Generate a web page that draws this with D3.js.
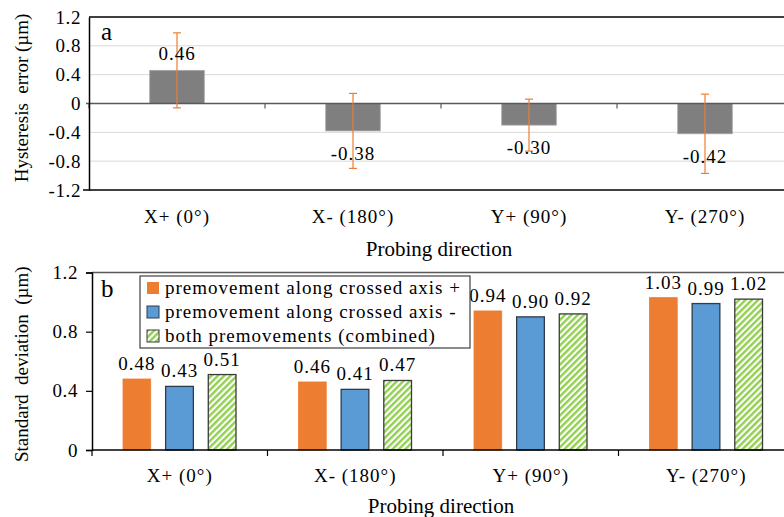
<!DOCTYPE html>
<html>
<head>
<meta charset="utf-8">
<script src="https://cdn.jsdelivr.net/npm/d3@7"></script>
<style>
  body { margin: 0; background: #fff; }
</style>
</head>
<body>
<svg id="chart" width="784" height="517"></svg>
<script>
// Categories shared by both panels
const directions = ["X+ (0°)", "X- (180°)", "Y+ (90°)", "Y- (270°)"];

// Panel a - hysteresis error and its error bar half-width
const hysteresis = [0.46, -0.38, -0.30, -0.42];
const hysteresisErr = [0.52, 0.52, 0.36, 0.55];
const ticksA = [-1.2, -0.8, -0.4, 0, 0.4, 0.8, 1.2];

// Panel b - standard deviation per series
const seriesNames = [
  "premovement along crossed axis +",
  "premovement along crossed axis -",
  "both premovements (combined)"
];
const stdPlus = [0.48, 0.46, 0.94, 1.03];
const stdMinus = [0.43, 0.41, 0.90, 0.99];
const stdBoth = [0.51, 0.47, 0.92, 1.02];
const ticksB = [0, 0.4, 0.8, 1.2];

const FONT = '"Liberation Serif", "Times New Roman", serif';
const svg = d3.select("#chart").style("font-family", FONT);
const fmt = d => d.toFixed(2);
const tickFmt = d => d === 0 ? "0" : d.toFixed(1);

// every label gets the same font; the source figure is slightly stretched
// horizontally, so horizontal text gets a little letter spacing
function label(sel, size, spacing = 1) {
  return sel.attr("font-family", FONT).style("font-family", FONT)
    .style("font-size", size + "px")
    .style("letter-spacing", spacing + "px")
    .attr("fill", "#000");
}

// hatch pattern for the combined series
const defs = svg.append("defs");
const pat = defs.append("pattern")
  .attr("id", "hatch")
  .attr("patternUnits", "userSpaceOnUse")
  .attr("width", 4.5).attr("height", 4.5)
  .attr("patternTransform", "rotate(45)");
pat.append("rect").attr("width", 4.5).attr("height", 4.5).attr("fill", "#fff");
pat.append("rect").attr("width", 2.4).attr("height", 4.5).attr("fill", "#92d050");

// ---------------- panel a ----------------
const a = { left: 89, right: 793, top: 17, bottom: 190 };

const xA = d3.scaleBand()
  .domain(directions)
  .range([a.left, a.right])
  .paddingInner(0.69)
  .paddingOuter(0.345);
const gapA = (xA.step() - xA.bandwidth()) / 2;

const yA = d3.scaleLinear().domain([-1.2, 1.2]).range([a.bottom, a.top]);

const gA = svg.append("g");

// gridlines
gA.append("g").selectAll("line")
  .data(ticksA.filter(d => d !== 0 && Math.abs(d) < 1.2))
  .join("line")
  .attr("x1", a.left).attr("x2", a.right)
  .attr("y1", d => yA(d)).attr("y2", d => yA(d))
  .attr("stroke", "#d9d9d9").attr("stroke-width", 1);

// frame lines top and bottom
gA.append("line")
  .attr("x1", a.left).attr("x2", a.right)
  .attr("y1", yA(1.2)).attr("y2", yA(1.2))
  .attr("stroke", "#000").attr("stroke-width", 1.3);
gA.append("line")
  .attr("x1", a.left - 6).attr("x2", a.right)
  .attr("y1", yA(-1.2)).attr("y2", yA(-1.2))
  .attr("stroke", "#000").attr("stroke-width", 1.3);

// bars
gA.append("g").selectAll("rect")
  .data(hysteresis)
  .join("rect")
  .attr("x", (d, i) => xA(directions[i]))
  .attr("width", xA.bandwidth())
  .attr("y", d => yA(Math.max(0, d)))
  .attr("height", d => Math.abs(yA(d) - yA(0)))
  .attr("fill", "#7f7f7f")
  .attr("stroke", "#a6a6a6").attr("stroke-width", 0.8);

// zero line with category ticks
gA.append("line")
  .attr("x1", a.left - 3).attr("x2", a.right)
  .attr("y1", yA(0)).attr("y2", yA(0))
  .attr("stroke", "#595959").attr("stroke-width", 1.5);
gA.append("g").selectAll("line")
  .data(directions)
  .join("line")
  .attr("x1", d => xA(d) - gapA).attr("x2", d => xA(d) - gapA)
  .attr("y1", yA(0)).attr("y2", yA(0) + 5)
  .attr("stroke", "#595959").attr("stroke-width", 1.2);

// y axis
const axA = gA.append("g")
  .attr("transform", `translate(${a.left},0)`)
  .call(d3.axisLeft(yA).tickValues(ticksA).tickSize(0).tickPadding(8).tickFormat(tickFmt));
axA.attr("font-family", null);
axA.select(".domain").attr("stroke", "#000").attr("stroke-width", 1.5);
label(axA.selectAll("text"), 19, 0.6);

// error bars
const errG = gA.append("g").selectAll("g")
  .data(hysteresis)
  .join("g")
  .attr("stroke", "#ed7d31").attr("stroke-width", 1.2);
errG.append("line")
  .attr("x1", (d, i) => xA(directions[i]) + xA.bandwidth() / 2)
  .attr("x2", (d, i) => xA(directions[i]) + xA.bandwidth() / 2)
  .attr("y1", (d, i) => yA(d + hysteresisErr[i]))
  .attr("y2", (d, i) => yA(d - hysteresisErr[i]));
[1, -1].forEach(s => {
  errG.append("line")
    .attr("x1", (d, i) => xA(directions[i]) + xA.bandwidth() / 2 - 4)
    .attr("x2", (d, i) => xA(directions[i]) + xA.bandwidth() / 2 + 4)
    .attr("y1", (d, i) => yA(d + s * hysteresisErr[i]))
    .attr("y2", (d, i) => yA(d + s * hysteresisErr[i]));
});

// value labels
label(gA.append("g").selectAll("text")
  .data(hysteresis)
  .join("text")
  .attr("x", (d, i) => xA(directions[i]) + xA.bandwidth() / 2)
  .attr("y", d => d >= 0 ? yA(d) - 10 : yA(d) + 29)
  .attr("text-anchor", "middle")
  .text(fmt), 19);

// category labels
label(gA.append("g").selectAll("text")
  .data(directions)
  .join("text")
  .attr("x", d => xA(d) + xA.bandwidth() / 2)
  .attr("y", 223)
  .attr("text-anchor", "middle")
  .text(d => d), 19);

label(gA.append("text")
  .attr("x", 439).attr("y", 256)
  .attr("text-anchor", "middle")
  .text("Probing direction"), 21, 0);

label(gA.append("text")
  .attr("transform", `translate(28,98) rotate(-90)`)
  .attr("text-anchor", "middle")
  .attr("xml:space", "preserve")
  .text("Hysteresis  error (µm)"), 19, 0);

label(gA.append("text")
  .attr("x", 101).attr("y", 40)
  .text("a"), 25, 0);

// ---------------- panel b ----------------
const b = { left: 92, right: 794, top: 272.5, bottom: 450 };

const x0 = d3.scaleBand().domain(directions).range([b.left, b.right]).padding(0);
const x1 = d3.scaleBand().domain(seriesNames).range([31, 144]).paddingInner(0.35);
const yB = d3.scaleLinear().domain([0, 1.2]).range([b.bottom, b.top]);

const gB = svg.append("g");

// top frame line
gB.append("line")
  .attr("x1", b.left).attr("x2", b.right)
  .attr("y1", b.top).attr("y2", b.top)
  .attr("stroke", "#595959").attr("stroke-width", 1.3);

const seriesVals = [stdPlus, stdMinus, stdBoth];
const fills = ["#ed7d31", "#5b9bd5", "url(#hatch)"];
const strokes = ["#ed7d31", "#2e3b4a", "#3a3a3a"];

seriesVals.forEach((vals, s) => {
  gB.append("g").selectAll("rect")
    .data(vals)
    .join("rect")
    .attr("x", (d, i) => x0(directions[i]) + x1(seriesNames[s]))
    .attr("width", x1.bandwidth())
    .attr("y", d => yB(d))
    .attr("height", d => yB(0) - yB(d))
    .attr("fill", fills[s])
    .attr("stroke", strokes[s]).attr("stroke-width", s === 0 ? 0.8 : 1.3);

  label(gB.append("g").selectAll("text")
    .data(vals)
    .join("text")
    .attr("x", (d, i) => x0(directions[i]) + x1(seriesNames[s]) + x1.bandwidth() / 2)
    .attr("y", d => yB(d) - 9)
    .attr("text-anchor", "middle")
    .text(fmt), 19);
});

// axes
const axBy = gB.append("g")
  .attr("transform", `translate(${b.left},0)`)
  .call(d3.axisLeft(yB).tickValues(ticksB).tickSize(6).tickPadding(8).tickFormat(tickFmt));
axBy.attr("font-family", null);
axBy.select(".domain").attr("stroke", "#000").attr("stroke-width", 1.5);
axBy.selectAll(".tick line").attr("stroke", "#000").attr("stroke-width", 1.2);
label(axBy.selectAll("text"), 19, 0.6);

gB.append("line")
  .attr("x1", b.left).attr("x2", b.right)
  .attr("y1", b.bottom).attr("y2", b.bottom)
  .attr("stroke", "#000").attr("stroke-width", 1.5);
gB.append("g").selectAll("line")
  .data(directions)
  .join("line")
  .attr("x1", d => x0(d)).attr("x2", d => x0(d))
  .attr("y1", b.bottom).attr("y2", b.bottom + 6)
  .attr("stroke", "#000").attr("stroke-width", 1.2);

label(gB.append("g").selectAll("text")
  .data(directions)
  .join("text")
  .attr("x", d => x0(d) + x0.bandwidth() / 2)
  .attr("y", 482)
  .attr("text-anchor", "middle")
  .text(d => d), 19);

label(gB.append("text")
  .attr("x", 441).attr("y", 513)
  .attr("text-anchor", "middle")
  .text("Probing direction"), 21, 0);

label(gB.append("text")
  .attr("transform", `translate(28,${(b.top + b.bottom) / 2 + 3}) rotate(-90)`)
  .attr("text-anchor", "middle")
  .attr("xml:space", "preserve")
  .text("Standard  deviation  (µm)"), 19, 0);

label(gB.append("text")
  .attr("x", 101).attr("y", 297)
  .text("b"), 25, 0);

// legend
const leg = gB.append("g").attr("transform", "translate(140,276)");
leg.append("rect")
  .attr("width", 330).attr("height", 72)
  .attr("fill", "#fff").attr("stroke", "#404040").attr("stroke-width", 1.2);
const rows = leg.selectAll("g.row")
  .data(seriesNames)
  .join("g")
  .attr("class", "row")
  .attr("transform", (d, i) => `translate(7,${12 + i * 24})`);
rows.append("rect")
  .attr("y", -6).attr("width", 12).attr("height", 12)
  .attr("fill", (d, i) => fills[i])
  .attr("stroke", (d, i) => i === 0 ? "none" : strokes[i]).attr("stroke-width", 1);
label(rows.append("text")
  .attr("x", 18).attr("y", 6)
  .text(d => d), 19);
</script>
</body>
</html>
